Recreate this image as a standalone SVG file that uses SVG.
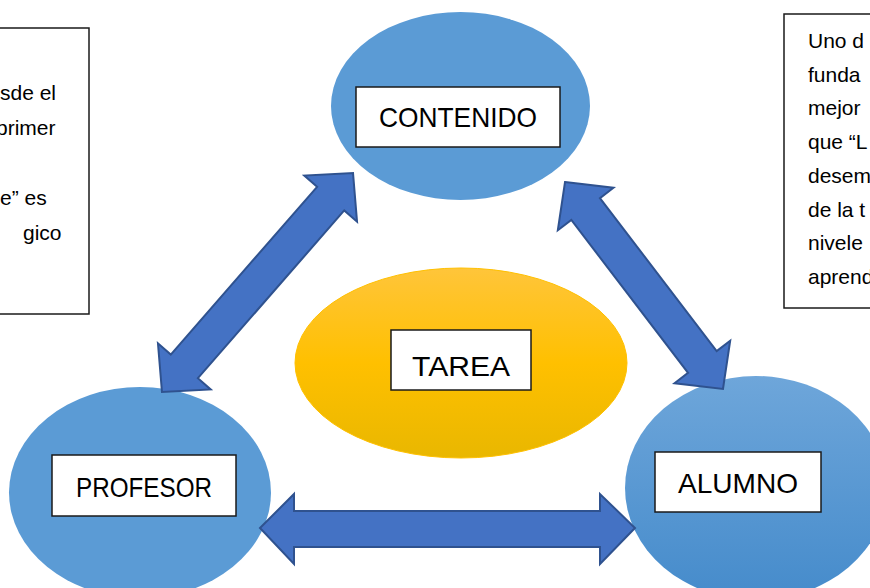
<svg xmlns="http://www.w3.org/2000/svg" width="870" height="588" viewBox="0 0 870 588">
<defs>
<linearGradient id="gTarea" x1="0" y1="0" x2="0" y2="1">
<stop offset="0" stop-color="#FFC53A"/>
<stop offset="0.5" stop-color="#FFC000"/>
<stop offset="1" stop-color="#E9B700"/>
</linearGradient>
<linearGradient id="gAlumno" x1="0" y1="0" x2="0" y2="1">
<stop offset="0" stop-color="#6EA6DA"/>
<stop offset="1" stop-color="#458BCB"/>
</linearGradient>
<style>
.node{fill:#5B9BD5;}
.lbl{fill:#FFFFFF;stroke:#1a1a1a;stroke-width:1.5;}
.lt{font-family:"Liberation Sans",Arial,sans-serif;font-size:28px;fill:#000;text-anchor:middle;}
.note{fill:#FFFFFF;stroke:#1a1a1a;stroke-width:1.5;}
.nt{font-family:"Liberation Sans",Arial,sans-serif;font-size:21px;fill:#000;}
.arr{fill:#4472C4;stroke:#2F528F;stroke-width:2;stroke-linejoin:miter;}
</style>
</defs>
<rect width="870" height="588" fill="#FFFFFF"/>

<g id="note-left">
<rect class="note" x="-60" y="28" width="149" height="286"/>
<text class="nt" x="0" y="100">sde el</text>
<text class="nt" x="-4" y="135">primer</text>
<text class="nt" x="0" y="205">e” es</text>
<text class="nt" x="23" y="240">gico</text>
</g>

<g id="note-right">
<rect class="note" x="784" y="14" width="120" height="294"/>
<text class="nt" x="808" y="48">Uno d</text>
<text class="nt" x="808" y="81.7">funda</text>
<text class="nt" x="808" y="115.4">mejor</text>
<text class="nt" x="808" y="149.1">que “L</text>
<text class="nt" x="808" y="182.8">desem</text>
<text class="nt" x="808" y="216.5">de la t</text>
<text class="nt" x="808" y="250.2">nivele</text>
<text class="nt" x="808" y="284">aprend</text>
</g>

<g id="node-contenido">
<ellipse class="node" cx="460.5" cy="106" rx="129.5" ry="94"/>
<rect class="lbl" x="356" y="87" width="204" height="60"/>
<text class="lt" x="458" y="127" textLength="158" lengthAdjust="spacingAndGlyphs">CONTENIDO</text>
</g>

<g id="node-tarea">
<ellipse cx="461" cy="363" rx="166" ry="95" fill="url(#gTarea)" stroke="#FFC000" stroke-width="1"/>
<rect class="lbl" x="391" y="330" width="140" height="60"/>
<text class="lt" x="461" y="376" font-size="32" textLength="98" lengthAdjust="spacingAndGlyphs">TAREA</text>
</g>

<g id="node-profesor">
<ellipse class="node" cx="140" cy="492.5" rx="131" ry="105.5"/>
<rect class="lbl" x="52" y="455" width="184" height="61"/>
<text class="lt" x="144" y="497" textLength="136" lengthAdjust="spacingAndGlyphs">PROFESOR</text>
</g>

<g id="node-alumno">
<ellipse cx="756" cy="488" rx="131" ry="112" fill="url(#gAlumno)"/>
<rect class="lbl" x="655" y="452" width="166" height="60"/>
<text class="lt" x="738" y="493" textLength="120" lengthAdjust="spacingAndGlyphs">ALUMNO</text>
</g>

<g id="connectors">
<polygon class="arr" transform="translate(257.5 282.5) rotate(-48.9)" points="-145.3,0 -111.3,-35 -111.3,-18 111.3,-18 111.3,-35 145.3,0 111.3,35 111.3,18 -111.3,18 -111.3,35"/>
<polygon class="arr" transform="translate(644 285.5) rotate(52.65)" points="-130.2,0 -96.2,-35 -96.2,-18 96.2,-18 96.2,-35 130.2,0 96.2,35 96.2,18 -96.2,18 -96.2,35"/>
<polygon class="arr" points="260,528 294,494 294,511 600,511 600,494 635,528 600,564 600,547 294,547 294,564"/>
</g>
</svg>
